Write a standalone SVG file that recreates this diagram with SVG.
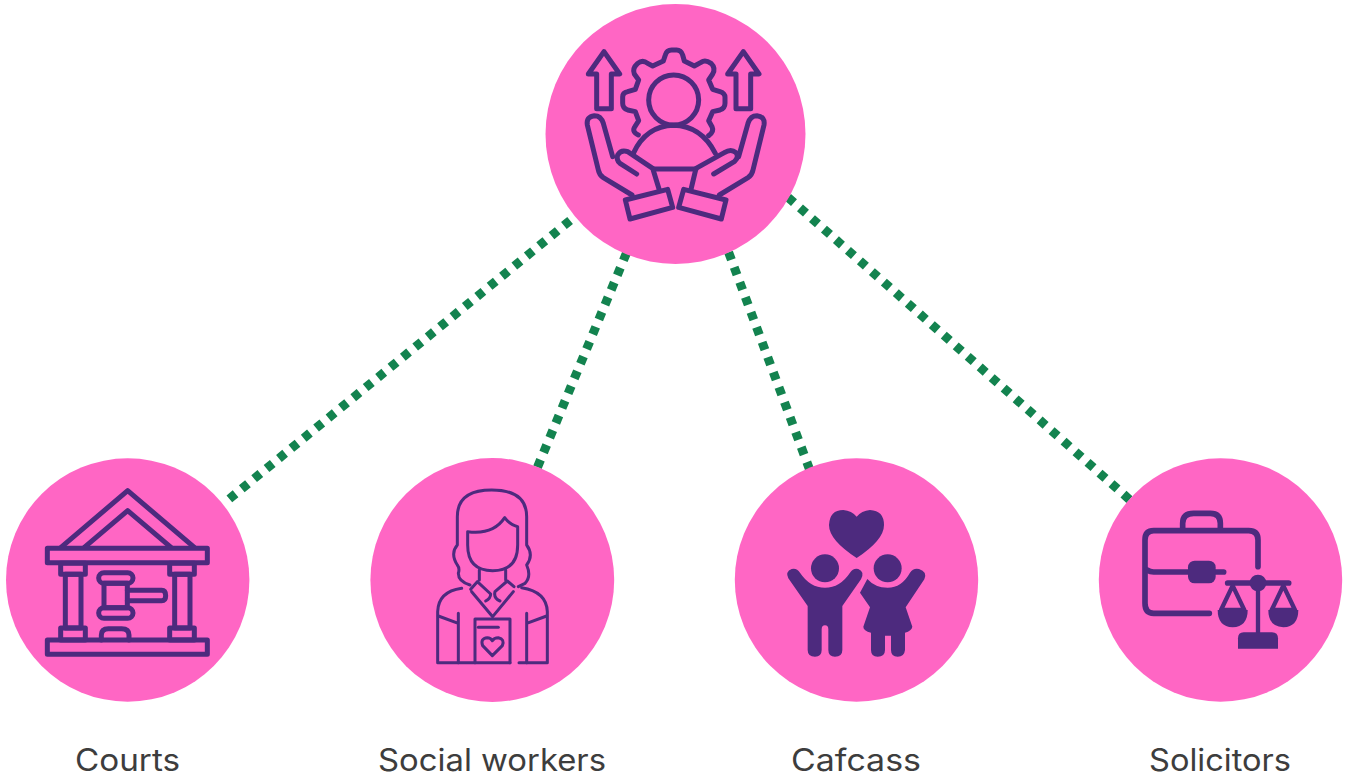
<svg xmlns="http://www.w3.org/2000/svg" width="1347" height="780" viewBox="0 0 1347 780">
<style>
.disc{fill:#ff66c4}
.link{stroke:#13834f;stroke-width:9;stroke-dasharray:8 8;fill:none}
.ico{fill:none;stroke:#4d2a7e;stroke-linecap:round;stroke-linejoin:round}
.solid{fill:#4d2a7e;stroke:none}
text{font-family:"Inter","Liberation Sans",sans-serif;font-size:30.5px;fill:#3d3d3d;text-anchor:middle}
</style>
<rect width="1347" height="780" fill="#fff"/>
<g id="connectors">
<line class="link" x1="570.1" y1="220.5" x2="228" y2="500"/>
<line class="link" x1="626.5" y1="253" x2="533" y2="478"/>
<line class="link" x1="728.6" y1="252.3" x2="812" y2="476"/>
<line class="link" x1="788" y1="197.3" x2="1130" y2="500"/>
</g>
<g id="node-top">
<circle class="disc" cx="675.5" cy="134" r="130"/>
<g class="ico" stroke-width="15" transform="translate(546 0) scale(.33333)">
<path d="M152 326V222H127L174 155L221 222H196V326Z"/>
<path d="M570 326V222H545L592 155L639 222H614V326Z"/>
<path d="M277 405Q255 395 268 378L278 362L268 335L245 330Q230 325 230 310V290Q230 278 245 275L268 268L278 240L265 222Q258 205 275 190Q290 178 305 190L320 198L352 183L358 165Q362 150 377 150H392Q405 150 410 165L415 183L445 198L465 187Q478 178 495 190Q510 205 500 222L488 240L500 268L522 275Q537 280 537 292V310Q537 325 522 330L500 335L488 362L498 380Q505 395 488 407"/>
<circle cx="383" cy="300" r="75"/>
<path d="M262 460Q300 378 383 376Q466 378 508 460"/>
<path d="M325 507H450"/>
<path d="M258 585L172 533Q160 525 157 510L124 375Q120 350 145 347Q165 347 172 370L200 470"/>
<path d="M272 522L222 490Q210 480 215 465Q225 448 245 455L320 505L340 570"/>
<path d="M238 600L365 568L380 622L252 657Z"/>
<path d="M520 585L606 533Q618 525 621 510L654 375Q658 350 633 347Q613 347 606 370L578 470"/>
<path d="M503 522L566 484Q580 470 570 458Q555 445 535 458L450 505L435 568"/>
<path d="M540 600L413 568L398 622L526 657Z"/>
</g>
</g>
<g id="node-courts">
<circle class="disc" cx="127.7" cy="580" r="121.7"/>
<g class="ico" stroke-width="15" transform="translate(0 470) scale(.33333)">
<path d="M183 232L383 62L583 232"/>
<path d="M253 232L383 122L513 232"/>
<rect x="142" y="235" width="480" height="43"/>
<rect x="142" y="510" width="480" height="43"/>
<rect x="182" y="280" width="74" height="33"/>
<rect x="182" y="474" width="74" height="36"/>
<rect x="196" y="313" width="47" height="161"/>
<rect x="509" y="280" width="74" height="33"/>
<rect x="509" y="474" width="74" height="36"/>
<rect x="524" y="313" width="46" height="161"/>
<rect x="296" y="308" width="103" height="32" rx="16"/>
<rect x="296" y="413" width="103" height="32" rx="16"/>
<rect x="312" y="340" width="70" height="73"/>
<path d="M382 361H485Q497 361 497 377Q497 392 485 392H382"/>
<path d="M304 510V495Q304 476 325 476H365Q387 476 387 495V510"/>
</g>
</g>
<g id="node-social-workers">
<circle class="disc" cx="492.3" cy="580" r="121.9"/>
<g class="ico" stroke-width="9" transform="translate(370 470) scale(.33333)">
<path d="M300 345Q265 335 265 310Q270 295 262 285Q240 250 262 225V140Q262 60 365 60Q470 60 470 140V225Q492 255 470 285Q485 320 465 340L445 350"/>
<path d="M293 185V225Q293 302 368 302Q443 302 443 225V170Q420 165 404 143Q370 195 293 185Z"/>
<path d="M328 300V330M407 300V330"/>
<path d="M302 358L322 335L362 372Q362 385 347 393"/>
<path d="M390 393Q370 385 375 365L412 333L432 350"/>
<path d="M305 365L368 440L430 365"/>
<path d="M275 355Q205 365 203 425V578H420"/>
<path d="M447 578H532V425Q530 365 455 353"/>
<path d="M205 438L265 460M265 430V578M530 438L470 460M470 430V578"/>
<path d="M315 578V447H420V578"/>
<path d="M325 472H385"/>
<path d="M367 557L338 527Q330 505 352 503Q362 503 367 512Q372 503 385 503Q405 507 397 527Z"/>
</g>
</g>
<g id="node-cafcass">
<circle class="disc" cx="856.5" cy="580" r="121.7"/>
<g class="solid" transform="translate(735 470) scale(.33333)">
<path d="M365 264Q282 210 282 165Q284 120 325 120Q350 122 365 140Q380 122 405 120Q447 122 447 165Q447 210 365 264Z"/>
<circle cx="270" cy="295" r="42"/>
<circle cx="458" cy="295" r="42"/>
<path d="M160 325Q150 305 170 297Q185 293 195 308Q225 353 270 353Q315 353 345 308Q355 293 370 297Q390 305 378 328L322 408V540Q322 560 300 560Q280 560 280 540V478Q280 466 270 466Q260 466 260 478V540Q260 560 240 560Q218 560 218 540V408Z"/>
<path d="M397 327Q420 353 458 353Q500 353 525 308Q535 293 552 297Q578 305 568 328L512 412L532 470Q530 482 510 488V540Q508 560 488 560Q468 560 468 540V497H450V540Q450 560 428 560Q408 560 408 540V488Q385 482 385 470L405 412L375 368Z"/>
</g>
</g>
<g id="node-solicitors">
<circle class="disc" cx="1220.5" cy="580" r="121.7"/>
<g transform="translate(1097 470) scale(.33333)">
<g class="ico" stroke-width="17">
<path d="M257 175V160Q257 130 290 130H340Q370 130 370 160V175"/>
<path d="M483 290V210Q483 182 455 182H170Q144 182 144 210V400Q144 430 170 430H337"/>
<path d="M150 300Q160 306 170 306H380"/>
<path d="M392 339H575"/>
</g>
<g class="ico" stroke-width="13">
<path d="M483 339V490"/>
<path d="M407 347L372 420H442Z"/>
<path d="M559 347L524 420H594Z"/>
</g>
<g class="solid">
<rect x="273" y="272" width="83" height="68" rx="20"/>
<circle cx="483" cy="339" r="25"/>
<path d="M423 536V505Q423 487 440 487H525Q543 487 543 505V536Z"/>
<path d="M362 420H452Q452 470 407 472Q362 470 362 420Z"/>
<path d="M514 420H604Q604 470 559 472Q514 470 514 420Z"/>
</g>
</g>
</g>
<g id="labels">
<text x="127.5" y="771" textLength="105" lengthAdjust="spacingAndGlyphs">Courts</text>
<text x="492" y="771" textLength="228" lengthAdjust="spacingAndGlyphs">Social workers</text>
<text x="856" y="771" textLength="130" lengthAdjust="spacingAndGlyphs">Cafcass</text>
<text x="1220" y="771" textLength="142" lengthAdjust="spacingAndGlyphs">Solicitors</text>
</g>
</svg>
